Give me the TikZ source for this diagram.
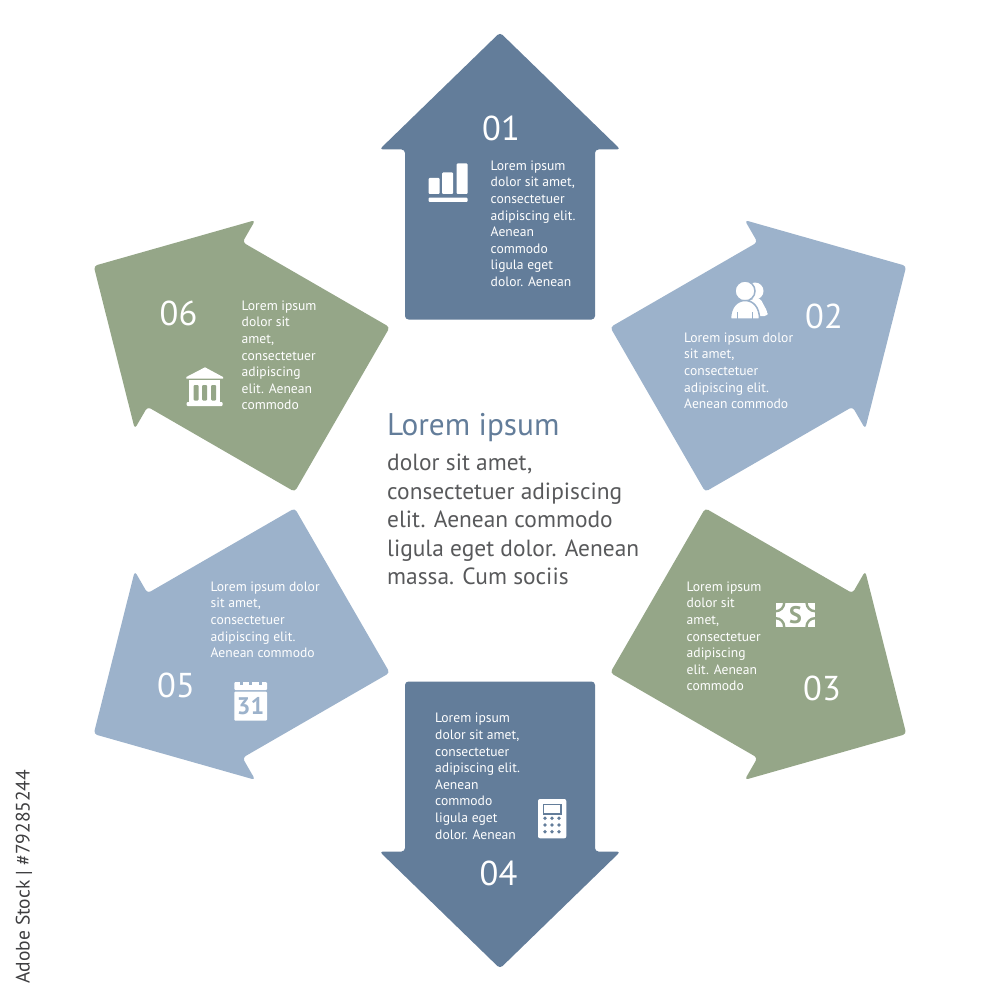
\documentclass[tikz,border=0pt]{standalone}
\usepackage{fontspec}
\setmainfont{PT Sans}
\definecolor{BlueDark}{HTML}{637D9A}
\definecolor{BlueLight}{HTML}{9CB2CB}
\definecolor{GreenSoft}{HTML}{95A688}
\definecolor{GreyText}{HTML}{58595B}
\newcommand{\arrowshape}{(0,-468) -- (120.5,-351) -- (95,-351) -- (95,-181) -- (-95,-181) -- (-95,-351) -- (-120.5,-351) -- cycle}
\tikzset{
  arrowbox/.style={rounded corners=3.5pt},
  lorem/.style={anchor=north west,inner sep=0pt,align=left,text=white,font=\fontsize{13.6}{16.6}\selectfont},
  numlabel/.style={inner sep=0pt,text=white,font=\fontsize{34.5}{34.5}\selectfont}
}
\begin{document}
\begin{tikzpicture}[x=1pt,y=-1pt]
       \useasboundingbox (0,0) rectangle (1000,1000);
       % arrows
       \fill[arrowbox,BlueDark,shift={(500,500.5)}] \arrowshape;
       \fill[arrowbox,BlueLight,shift={(501,500)},rotate=-60] \arrowshape;
       \fill[arrowbox,GreenSoft,shift={(501,500)},rotate=-120] \arrowshape;
       \fill[arrowbox,BlueDark,shift={(500,500.5)},rotate=180] \arrowshape;
       \fill[arrowbox,BlueLight,shift={(499,500)},rotate=120] \arrowshape;
       \fill[arrowbox,GreenSoft,shift={(499,500)},rotate=60] \arrowshape;
       % numbers
       \node[numlabel] (num1) at (501,128) {01};
       \node[numlabel] (num2) at (824,316) {02};
       \node[numlabel] (num3) at (822,688) {03};
       \node[numlabel] (num4) at (498.5,873) {04};
       \node[numlabel] (num5) at (176,685.5) {05};
       \node[numlabel] (num6) at (178.5,313) {06};
       % small texts
       \node[lorem] (txt1) at (490.5,160.5) {Lorem ipsum\\dolor sit amet,\\consectetuer\\adipiscing elit.\\Aenean\\commodo\\ligula eget\\dolor. Aenean};
       \node[lorem] (txt2) at (684,332.5) {Lorem ipsum dolor\\sit amet,\\consectetuer\\adipiscing elit.\\Aenean commodo};
       \node[lorem] (txt3) at (686.5,581.5) {Lorem ipsum\\dolor sit\\amet,\\consectetuer\\adipiscing\\elit. Aenean\\commodo};
       \node[lorem] (txt4) at (435,713) {Lorem ipsum\\dolor sit amet,\\consectetuer\\adipiscing elit.\\Aenean\\commodo\\ligula eget\\dolor. Aenean};
       \node[lorem] (txt5) at (210.5,581.5) {Lorem ipsum dolor\\sit amet,\\consectetuer\\adipiscing elit.\\Aenean commodo};
       \node[lorem] (txt6) at (241.5,300.5) {Lorem ipsum\\dolor sit\\amet,\\consectetuer\\adipiscing\\elit. Aenean\\commodo};
       % centre
       \node[anchor=west,inner sep=0pt,text=BlueDark,font=\fontsize{31.3}{31.3}\selectfont] (title) at (387,428) {Lorem ipsum};
       \node[anchor=north west,inner sep=0pt,align=left,text=GreyText,font=\fontsize{23.4}{28.5}\selectfont] (body) at (387,454) {dolor sit amet,\\consectetuer adipiscing\\elit. Aenean commodo\\ligula eget dolor. Aenean\\massa. Cum sociis};
       % stock line
       \node[rotate=90,anchor=west,inner sep=0pt,text=GreyText!70!black,font=\fontsize{19.5}{19.5}\selectfont] (stock) at (24,984) {Adobe Stock | \#79285244};
       % icon 01, bars
       \fill[white,rounded corners=1pt] (428.5,178) rectangle (439.5,194);
       \fill[white,rounded corners=1pt] (442,172.5) rectangle (453,194);
       \fill[white,rounded corners=1pt] (456.5,163.5) rectangle (467.5,194);
       \fill[white,rounded corners=1pt] (428.5,197.7) rectangle (467.5,202);
       % icon 02, people
       \fill[white] (755,291) circle (8.5);
       \fill[white,rounded corners=3pt] (749,318) -- (749,300) -- (760,298) -- (767.5,312) -- (767.5,316) -- (760,316) -- cycle;
       \fill[white,draw=BlueLight,line width=1.5pt] (745,291) circle (10);
       \fill[white,draw=BlueLight,line width=1.5pt] (730.5,319) .. controls (730.5,307) and (737,300.5) .. (745,300.5) .. controls (753,300.5) and (759.5,307) .. (759.5,319) -- cycle;
       \draw[BlueLight,line width=0.8pt] (737.5,319) -- (737.5,312) (752.5,319) -- (752.5,312);
       % icon 03, banknote
       \begin{scope}
         \clip (775.7,602.7) rectangle (815,626.7);
         \fill[white] (775.7,602.7) rectangle (815,626.7);
         \foreach \cx in {775.7,815}
           \foreach \cy in {602.7,626.7}
             \draw[GreenSoft,line width=2.4pt] (\cx,\cy) circle (8.5);
       \end{scope}
       \node[inner sep=0pt,text=GreenSoft,font=\fontsize{24}{24}\bfseries\selectfont] (dollar) at (795.5,614.7) {S};
       % icon 04, calculator
       \fill[white,rounded corners=2pt] (538,799) rectangle (566.3,838.3);
       \fill[white,draw=BlueDark,line width=1.6pt] (543.5,804.5) rectangle (561,814);
       \foreach \bx in {545,552,559}
         \foreach \by in {818.3,825,831.7}
           \fill[BlueDark] (\bx,\by) circle (1.9);
       % icon 05, calendar
       \fill[white,rounded corners=1pt] (234.3,682) rectangle (267,690);
       \fill[white,rounded corners=1pt] (234.3,691.5) rectangle (267,720.7);
       \foreach \nx in {241,250.5,260}
         \fill[BlueLight] (\nx-1.5,681.5) rectangle (\nx+1.5,684.5);
       \node[inner sep=0pt,text=BlueLight,font=\fontsize{24}{24}\bfseries\selectfont] (caldate) at (250.5,706) {31};
       % icon 06, bank
       \fill[white] (205,367.3) -- (223,377) -- (223,378.5) -- (186.3,378.5) -- (186.3,377) -- cycle;
       \fill[white] (189,380) rectangle (220,402);
       \fill[white,rounded corners=1pt] (186.7,402) rectangle (222.7,406);
       \fill[GreenSoft,rounded corners=1pt] (193.5,385) rectangle (198.5,400.5);
       \fill[GreenSoft,rounded corners=1pt] (202,385) rectangle (207,400.5);
       \fill[GreenSoft,rounded corners=1pt] (211,385) rectangle (216,400.5);
     \end{tikzpicture}
\end{document}
